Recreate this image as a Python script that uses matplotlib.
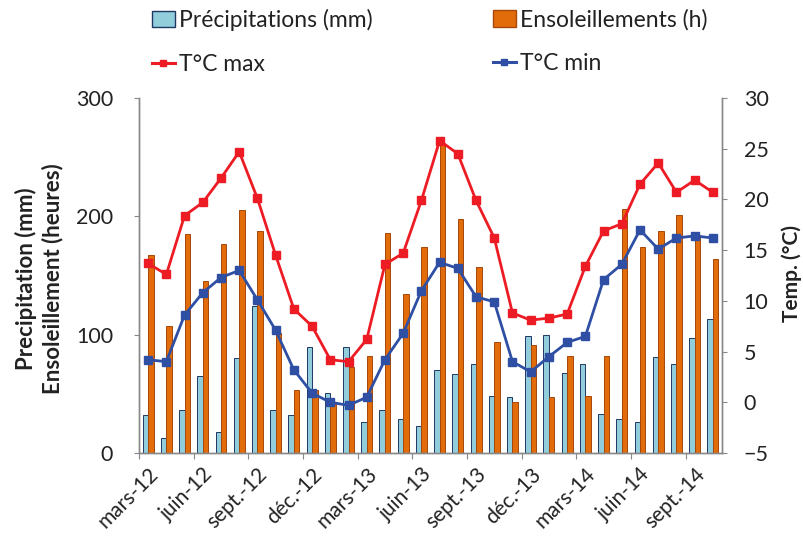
import matplotlib
matplotlib.use("Agg")
import matplotlib.pyplot as plt
import numpy as np
from matplotlib.lines import Line2D
from matplotlib.patches import Patch

plt.rcParams['font.family'] = ['Lato', 'DejaVu Sans']

precip = [32, 13, 36, 65, 18, 80, 124, 36, 32, 90, 51, 90, 26, 36, 28.5, 23,
          70, 67, 75, 48, 47, 99, 100, 68, 75, 33, 28.5, 26, 81, 75, 97, 113.5]
sun = [167, 107, 185, 145, 177, 205, 188, 101, 53, 53, 42, 73, 82, 186, 134, 174,
       260, 198, 157, 94, 43, 91, 47, 82, 48, 82, 206, 174, 188, 201, 184, 164]
tmax = [13.7, 12.6, 18.4, 19.7, 22.1, 24.7, 20.1, 14.5, 9.2, 7.5, 4.2, 4.0, 6.2, 13.6, 14.7, 19.9,
        25.8, 24.5, 19.9, 16.2, 8.8, 8.1, 8.3, 8.7, 13.4, 16.9, 17.6, 21.5, 23.6, 20.7, 21.9, 20.7]
tmin = [4.2, 4.0, 8.6, 10.8, 12.3, 13.0, 10.1, 7.1, 3.2, 0.9, 0.0, -0.3, 0.5, 4.2, 6.8, 11.0,
        13.8, 13.2, 10.4, 9.9, 4.0, 3.0, 4.5, 5.9, 6.5, 12.1, 13.6, 17.0, 15.1, 16.2, 16.4, 16.2]
tick_labels = ["mars-12", "juin-12", "sept.-12", "déc.-12", "mars-13", "juin-13",
               "sept.-13", "déc.-13", "mars-14", "juin-14", "sept.-14"]

W, H = 804, 536
fig = plt.figure(figsize=(W/100, H/100), dpi=100)
ax = fig.add_axes([139/W, (H-453)/H, (722-139)/W, (453-98)/H])
ax2 = ax.twinx()

x = np.arange(len(precip))
w = 0.3
c_blue = '#92CDDC'
c_blue_e = '#1F3864'
c_or = '#E36C0A'
c_or_e = '#A5480A'
c_red = '#ED1C24'
c_line_blue = '#2E4FA3'
gray = '#888888'
txt = '#222222'

ax.bar(x - w/2, precip, width=w, color=c_blue, edgecolor=c_blue_e, linewidth=0.7, zorder=2)
ax.bar(x + w/2, sun, width=w, color=c_or, edgecolor=c_or_e, linewidth=0.7, zorder=2)

ax2.plot(x, tmax, color=c_red, lw=2.0, marker='s', ms=6, mfc=c_red, mec=c_red, zorder=3)
ax2.plot(x, tmin, color=c_line_blue, lw=2.0, marker='s', ms=6, mfc=c_line_blue, mec=c_line_blue, zorder=3)

ax.set_xlim(-0.5, len(precip) - 0.5)
ax.set_ylim(0, 300)
ax2.set_ylim(-5, 30)
ax.set_yticks([0, 100, 200, 300])
ax2.set_yticks(np.arange(-5, 31, 5))

# x ticks: marks at boundaries every 3 months, labels at category centers
ax.set_xticks(np.arange(-0.5, len(precip), 3))
ax.set_xticklabels([])
ax.set_xticks(np.arange(0, len(precip), 3), minor=True)
ax.set_xticklabels(tick_labels, minor=True, rotation=45, ha='right',
                   rotation_mode='anchor', fontsize=15, color=txt)
ax.tick_params(axis='x', which='minor', length=0, pad=8)
ax.tick_params(axis='x', which='major', length=4, color=gray, direction='out')

ax.tick_params(axis='y', length=3.6, color=gray, labelsize=15.5, labelcolor=txt, pad=15)
ax2.tick_params(axis='y', length=3.6, color=gray, labelsize=15.5, labelcolor=txt, pad=12)

for a in (ax, ax2):
    a.spines['top'].set_visible(False)
    for s in ('left', 'right', 'bottom'):
        a.spines[s].set_color(gray)
        a.spines[s].set_linewidth(1.0)

fig.text(39/W, 1 - 279/H, "Precipitation (mm)\nEnsoleillement (heures)", rotation=90,
         ha='center', va='center', multialignment='center', fontsize=16,
         fontweight='bold', color=txt, linespacing=1.3)
fig.text(792/W, 1 - 273/H, "Temp. (°C)", rotation=90, ha='center', va='center',
         fontsize=15, fontweight='bold', color=txt)

leg_kw = dict(loc='upper left', frameon=False, fontsize=16.5, handlelength=1.0,
              handletextpad=0.2, labelspacing=1.0, borderpad=0, borderaxespad=0)
leg1 = fig.legend([Patch(facecolor=c_blue, edgecolor=c_blue_e),
                   Line2D([], [], color=c_red, lw=2.2, marker='s', ms=5)],
                  ["Précipitations (mm)", "T°C max"],
                  bbox_to_anchor=(152/W, 1 - 9/H), **leg_kw)
leg2 = fig.legend([Patch(facecolor=c_or, edgecolor=c_or_e),
                   Line2D([], [], color=c_line_blue, lw=2.2, marker='s', ms=5)],
                  ["Ensoleillements (h)", "T°C min"],
                  bbox_to_anchor=(493/W, 1 - 9/H), **leg_kw)
for lg in (leg1, leg2):
    for t in lg.get_texts():
        t.set_color(txt)

fig.savefig("out.png", dpi=100)
